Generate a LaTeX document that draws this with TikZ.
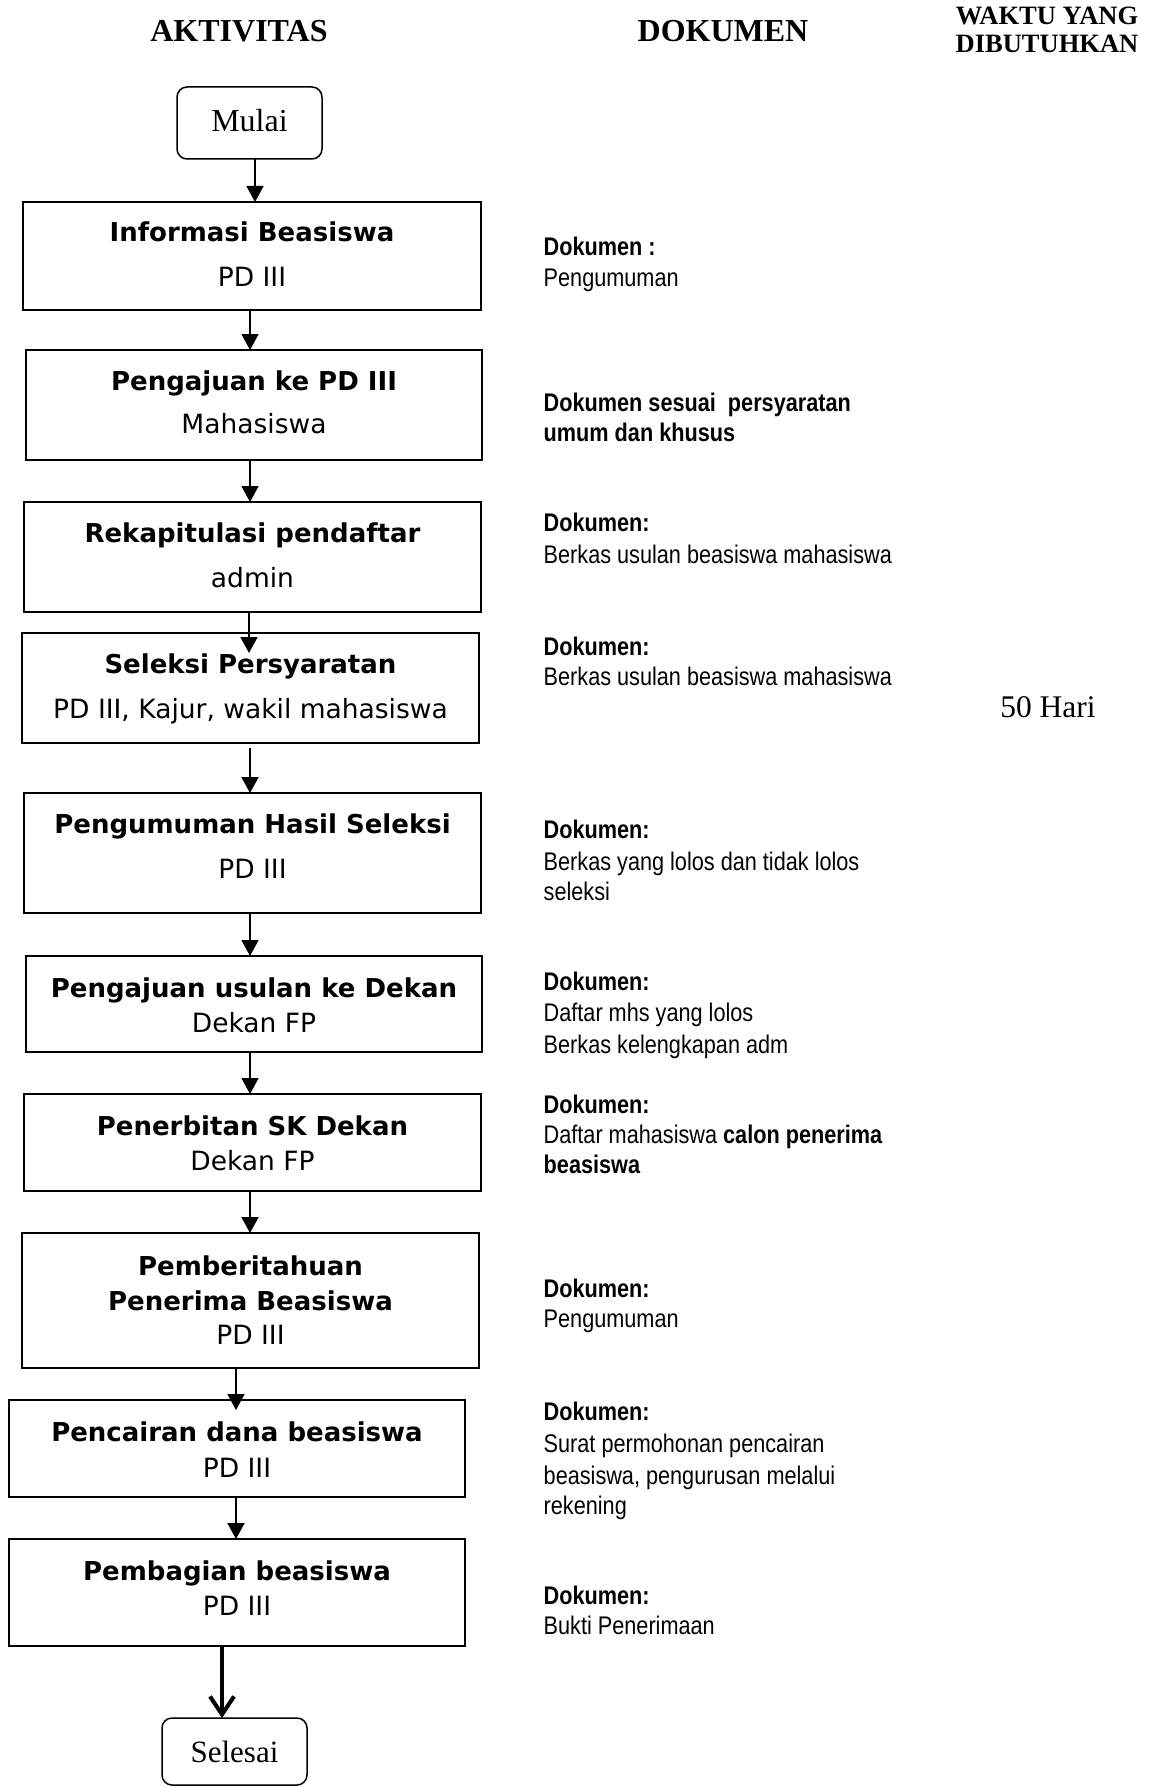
\documentclass[tikz,border=0pt]{standalone}
\usepackage{fontspec}
\setmainfont{Liberation Serif}
\newfontfamily\boxfont{DejaVu Sans}
\newfontfamily\docfont[FakeStretch=0.85]{Liberation Sans}
\usetikzlibrary{arrows.meta}
\begin{document}
\begin{tikzpicture}[x=1pt,y=-1pt,
  stepbox/.style={draw, line width=1.8pt, rectangle, inner sep=0pt, outer sep=0pt},
  termbox/.style={draw, line width=1.5pt, rectangle, rounded corners=10pt, inner sep=0pt, outer sep=0pt},
  ttl/.style={anchor=base, inner sep=0pt, font=\boxfont\bfseries\fontsize{26}{30}\selectfont},
  sub/.style={anchor=base, inner sep=0pt, font=\boxfont\fontsize{26.5}{30}\selectfont},
  doc/.style={anchor=base west, inner sep=0pt, font=\docfont\fontsize{25.5}{30}\selectfont},
  dochd/.style={anchor=base west, inner sep=0pt, font=\docfont\bfseries\fontsize{25.5}{30}\selectfont},
  hdr/.style={anchor=base, inner sep=0pt, font=\bfseries\fontsize{32}{36}\selectfont},
  hdrs/.style={anchor=base, inner sep=0pt, font=\bfseries\fontsize{26.5}{30}\selectfont},
  serif/.style={anchor=base, inner sep=0pt, font=\fontsize{32}{36}\selectfont},
  arr/.style={line width=1.6pt, -{Triangle[width=17pt,length=16pt]}},
  thickarr/.style={line width=4pt, -{Straight Barb[width=24pt,length=18pt]}}
]
\useasboundingbox (0,0) rectangle (1155,1787);
\path[fill=white] (0,0) rectangle (1155,1787);

% headers
\node[hdr] (hA) at (239,42) {AKTIVITAS};
\node[hdr] (hD) at (723,42) {DOKUMEN};
\node[hdrs] (hW1) at (1047,25) {WAKTU YANG};
\node[hdrs] (hW2) at (1047,53) {DIBUTUHKAN};

% terminals
\node[termbox, minimum width=145pt, minimum height=72pt] (mulai) at (249.5,123) {};
\node[serif] (tmulai) at (249.5,132) {Mulai};
\node[termbox, minimum width=145pt, minimum height=67pt] (selesai) at (234.5,1751.5) {};
\node[serif, font=\fontsize{31}{36}\selectfont] (tselesai) at (234.5,1762) {Selesai};

% boxes
\node[stepbox, minimum width=458pt, minimum height=108pt] (info) at (252,256) {};
\node[ttl] (t1a) at (252,242) {Informasi Beasiswa};
\node[sub] (t1b) at (252,287) {PD III};

\node[stepbox, minimum width=456pt, minimum height=110pt] (peng) at (254,405) {};
\node[ttl] (t2a) at (254,390) {Pengajuan ke PD III};
\node[sub] (t2b) at (254,433) {Mahasiswa};

\node[stepbox, minimum width=457pt, minimum height=110pt] (rekap) at (252.5,557) {};
\node[ttl] (t3a) at (252.5,542) {Rekapitulasi pendaftar};
\node[sub] (t3b) at (252.5,587) {admin};

\node[stepbox, minimum width=457pt, minimum height=110pt] (sel) at (250.5,688) {};
\node[ttl] (t4a) at (250.5,673) {Seleksi Persyaratan};
\node[sub] (t4b) at (250.5,718) {PD III, Kajur, wakil mahasiswa};

\node[stepbox, minimum width=457pt, minimum height=120pt] (pengum) at (252.5,853) {};
\node[ttl] (t5a) at (252.5,833) {Pengumuman Hasil Seleksi};
\node[sub] (t5b) at (252.5,878) {PD III};

\node[stepbox, minimum width=456pt, minimum height=96pt] (usul) at (254,1004) {};
\node[ttl] (t6a) at (254,997) {Pengajuan usulan ke Dekan};
\node[sub] (t6b) at (254,1032) {Dekan FP};

\node[stepbox, minimum width=457pt, minimum height=97pt] (sk) at (252.5,1142.5) {};
\node[ttl] (t7a) at (252.5,1135) {Penerbitan SK Dekan};
\node[sub] (t7b) at (252.5,1170) {Dekan FP};

\node[stepbox, minimum width=457pt, minimum height=135pt] (pember) at (250.5,1300.5) {};
\node[ttl] (t8a) at (250.5,1275) {Pemberitahuan};
\node[ttl] (t8b) at (250.5,1310) {Penerima Beasiswa};
\node[sub] (t8c) at (250.5,1344) {PD III};

\node[stepbox, minimum width=456pt, minimum height=97pt] (cair) at (237,1448.5) {};
\node[ttl] (t9a) at (237,1441) {Pencairan dana beasiswa};
\node[sub] (t9b) at (237,1477) {PD III};

\node[stepbox, minimum width=456pt, minimum height=107pt] (bagi) at (237,1592.5) {};
\node[ttl] (t10a) at (237,1580) {Pembagian beasiswa};
\node[sub] (t10b) at (237,1615) {PD III};

% connectors
\draw[arr] ([xshift=5.5pt]mulai.south) -- ([xshift=3pt]info.north);
\draw[arr] ([xshift=-2pt]info.south) -- ([xshift=-4pt]peng.north);
\draw[arr] ([xshift=-4pt]peng.south) -- ([xshift=-2.5pt]rekap.north);
\draw[arr] ([xshift=-3.5pt]rekap.south) -- ([xshift=-1.5pt,yshift=-20pt]sel.north);
\draw[arr] ([xshift=-0.5pt,yshift=-5pt]sel.south) -- ([xshift=-2.5pt]pengum.north);
\draw[arr] ([xshift=-2.5pt]pengum.south) -- ([xshift=-4pt]usul.north);
\draw[arr] ([xshift=-4pt]usul.south) -- ([xshift=-2.5pt]sk.north);
\draw[arr] ([xshift=-2.5pt]sk.south) -- ([xshift=-0.5pt]pember.north);
\draw[arr] ([xshift=-14.5pt]pember.south) -- ([xshift=-1pt,yshift=-10pt]cair.north);
\draw[arr] ([xshift=-1pt]cair.south) -- ([xshift=-1pt]bagi.north);
\draw[thickarr] ([xshift=-15pt]bagi.south) -- ([xshift=-12.5pt]selesai.north);

% documents column
\node[dochd] (d1a) at (543.5,256) {Dokumen :};
\node[doc] (d1b) at (543.5,287) {Pengumuman};

\node[dochd] (d2a) at (543.5,411) {Dokumen sesuai\ \ persyaratan};
\node[dochd] (d2b) at (543.5,441) {umum dan khusus};

\node[dochd] (d3a) at (543.5,531) {Dokumen:};
\node[doc] (d3b) at (543.5,563) {Berkas usulan beasiswa mahasiswa};

\node[dochd] (d4a) at (543.5,655) {Dokumen:};
\node[doc] (d4b) at (543.5,685) {Berkas usulan beasiswa mahasiswa};

\node[dochd] (d5a) at (543.5,838) {Dokumen:};
\node[doc] (d5b) at (543.5,870) {Berkas yang lolos dan tidak lolos};
\node[doc] (d5c) at (543.5,900) {seleksi};

\node[dochd] (d6a) at (543.5,990) {Dokumen:};
\node[doc] (d6b) at (543.5,1021) {Daftar mhs yang lolos};
\node[doc] (d6c) at (543.5,1053) {Berkas kelengkapan adm};

\node[dochd] (d7a) at (543.5,1113) {Dokumen:};
\node[doc] (d7b) at (543.5,1143) {Daftar mahasiswa \textbf{calon penerima}};
\node[dochd] (d7c) at (543.5,1173) {beasiswa};

\node[dochd] (d8a) at (543.5,1297) {Dokumen:};
\node[doc] (d8b) at (543.5,1327) {Pengumuman};

\node[dochd] (d9a) at (543.5,1420) {Dokumen:};
\node[doc] (d9b) at (543.5,1452) {Surat permohonan pencairan};
\node[doc] (d9c) at (543.5,1484) {beasiswa, pengurusan melalui};
\node[doc] (d9d) at (543.5,1514) {rekening};

\node[dochd] (d10a) at (543.5,1604) {Dokumen:};
\node[doc] (d10b) at (543.5,1634) {Bukti Penerimaan};

% time
\node[serif, font=\fontsize{31.5}{36}\selectfont] (waktu) at (1048,717) {50 Hari};
\end{tikzpicture}
\end{document}
